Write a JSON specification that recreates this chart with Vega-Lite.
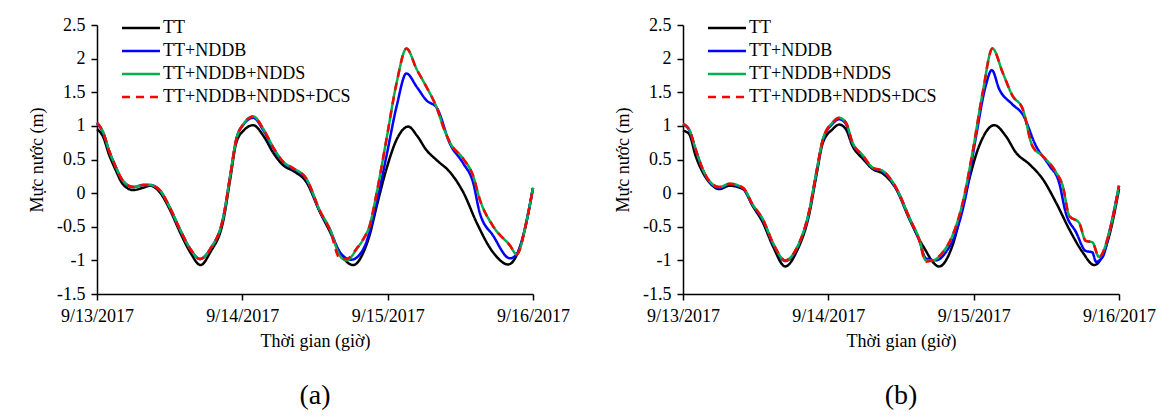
{
  "$schema": "https://vega.github.io/schema/vega-lite/v6.json",
  "background": "white",
  "padding": {"left": 28, "top": 16, "right": 5, "bottom": 5},
  "spacing": 150,
  "bounds": "flush",
  "config": {
    "font": "Times New Roman",
    "view": {"stroke": null},
    "axis": {
      "labelFont": "Times New Roman", "labelFontSize": 18, "labelColor": "black",
      "titleFont": "Times New Roman", "titleFontSize": 18, "titleFontWeight": "normal", "titleColor": "black",
      "domainColor": "black", "domainWidth": 1.5, "tickColor": "black", "tickWidth": 1.5, "tickSize": 6, "grid": false
    },
    "legend": {
      "labelFont": "Times New Roman", "labelFontSize": 18, "labelColor": "black", "labelLimit": 400
    },
    "title": {"font": "Times New Roman", "fontSize": 28, "fontWeight": "normal", "color": "black"}
  },
  "datasets": {
    "a": [
      {"series": "TT", "hour": 0, "level": 0.95},
      {"series": "TT", "hour": 1, "level": 0.84},
      {"series": "TT", "hour": 2, "level": 0.57},
      {"series": "TT", "hour": 3, "level": 0.36},
      {"series": "TT", "hour": 4.3, "level": 0.13},
      {"series": "TT", "hour": 6, "level": 0.045},
      {"series": "TT", "hour": 7.6, "level": 0.08},
      {"series": "TT", "hour": 8.75, "level": 0.11},
      {"series": "TT", "hour": 10.4, "level": 0.01},
      {"series": "TT", "hour": 12, "level": -0.24},
      {"series": "TT", "hour": 13.7, "level": -0.58},
      {"series": "TT", "hour": 15.4, "level": -0.88},
      {"series": "TT", "hour": 17.1, "level": -1.07},
      {"series": "TT", "hour": 18.7, "level": -0.88},
      {"series": "TT", "hour": 20.9, "level": -0.39},
      {"series": "TT", "hour": 22, "level": 0.21},
      {"series": "TT", "hour": 23, "level": 0.75},
      {"series": "TT", "hour": 24.2, "level": 0.93},
      {"series": "TT", "hour": 25.8, "level": 1.01},
      {"series": "TT", "hour": 27.5, "level": 0.85},
      {"series": "TT", "hour": 29.1, "level": 0.6},
      {"series": "TT", "hour": 30.8, "level": 0.41},
      {"series": "TT", "hour": 32.4, "level": 0.33},
      {"series": "TT", "hour": 34.6, "level": 0.16},
      {"series": "TT", "hour": 36.8, "level": -0.28},
      {"series": "TT", "hour": 38.5, "level": -0.58},
      {"series": "TT", "hour": 40.1, "level": -0.88},
      {"series": "TT", "hour": 42.3, "level": -1.07},
      {"series": "TT", "hour": 44, "level": -0.88},
      {"series": "TT", "hour": 45, "level": -0.63},
      {"series": "TT", "hour": 46.2, "level": -0.19},
      {"series": "TT", "hour": 47.8, "level": 0.36},
      {"series": "TT", "hour": 49.5, "level": 0.8},
      {"series": "TT", "hour": 51.4, "level": 0.99},
      {"series": "TT", "hour": 52.8, "level": 0.86},
      {"series": "TT", "hour": 54.4, "level": 0.64},
      {"series": "TT", "hour": 56.1, "level": 0.49},
      {"series": "TT", "hour": 58.3, "level": 0.31},
      {"series": "TT", "hour": 60.5, "level": 0.01},
      {"series": "TT", "hour": 62.7, "level": -0.44},
      {"series": "TT", "hour": 65.4, "level": -0.88},
      {"series": "TT", "hour": 67.9, "level": -1.06},
      {"series": "TT", "hour": 70.4, "level": -0.63},
      {"series": "TT", "hour": 72, "level": 0.08},

      {"series": "TT+NDDB", "hour": 0, "level": 1.04},
      {"series": "TT+NDDB", "hour": 1, "level": 0.9},
      {"series": "TT+NDDB", "hour": 2, "level": 0.63},
      {"series": "TT+NDDB", "hour": 3, "level": 0.41},
      {"series": "TT+NDDB", "hour": 4.3, "level": 0.18},
      {"series": "TT+NDDB", "hour": 6, "level": 0.09},
      {"series": "TT+NDDB", "hour": 7.6, "level": 0.12},
      {"series": "TT+NDDB", "hour": 8.75, "level": 0.12},
      {"series": "TT+NDDB", "hour": 10.4, "level": 0.04},
      {"series": "TT+NDDB", "hour": 12, "level": -0.21},
      {"series": "TT+NDDB", "hour": 13.7, "level": -0.54},
      {"series": "TT+NDDB", "hour": 15.4, "level": -0.83},
      {"series": "TT+NDDB", "hour": 17, "level": -0.98},
      {"series": "TT+NDDB", "hour": 18.7, "level": -0.83},
      {"series": "TT+NDDB", "hour": 20.9, "level": -0.34},
      {"series": "TT+NDDB", "hour": 22, "level": 0.26},
      {"series": "TT+NDDB", "hour": 23, "level": 0.8},
      {"series": "TT+NDDB", "hour": 24.2, "level": 1.02},
      {"series": "TT+NDDB", "hour": 25.8, "level": 1.12},
      {"series": "TT+NDDB", "hour": 27.5, "level": 0.93},
      {"series": "TT+NDDB", "hour": 29.1, "level": 0.67},
      {"series": "TT+NDDB", "hour": 30.8, "level": 0.45},
      {"series": "TT+NDDB", "hour": 32.4, "level": 0.36},
      {"series": "TT+NDDB", "hour": 34.6, "level": 0.2},
      {"series": "TT+NDDB", "hour": 36.8, "level": -0.27},
      {"series": "TT+NDDB", "hour": 38.5, "level": -0.55},
      {"series": "TT+NDDB", "hour": 40.1, "level": -0.88},
      {"series": "TT+NDDB", "hour": 42, "level": -0.99},
      {"series": "TT+NDDB", "hour": 44, "level": -0.83},
      {"series": "TT+NDDB", "hour": 45, "level": -0.58},
      {"series": "TT+NDDB", "hour": 46.2, "level": -0.14},
      {"series": "TT+NDDB", "hour": 47.8, "level": 0.55},
      {"series": "TT+NDDB", "hour": 49.5, "level": 1.3},
      {"series": "TT+NDDB", "hour": 51.1, "level": 1.78},
      {"series": "TT+NDDB", "hour": 52.8, "level": 1.58},
      {"series": "TT+NDDB", "hour": 54.4, "level": 1.38},
      {"series": "TT+NDDB", "hour": 56.1, "level": 1.27},
      {"series": "TT+NDDB", "hour": 58.3, "level": 0.73},
      {"series": "TT+NDDB", "hour": 60.5, "level": 0.44},
      {"series": "TT+NDDB", "hour": 62.1, "level": 0.16},
      {"series": "TT+NDDB", "hour": 63.2, "level": -0.29},
      {"series": "TT+NDDB", "hour": 65.4, "level": -0.63},
      {"series": "TT+NDDB", "hour": 68.2, "level": -0.97},
      {"series": "TT+NDDB", "hour": 69.3, "level": -0.91},
      {"series": "TT+NDDB", "hour": 71, "level": -0.39},
      {"series": "TT+NDDB", "hour": 72, "level": 0.08},

      {"series": "TT+NDDB+NDDS", "hour": 0, "level": 1.05},
      {"series": "TT+NDDB+NDDS", "hour": 1, "level": 0.91},
      {"series": "TT+NDDB+NDDS", "hour": 2, "level": 0.63},
      {"series": "TT+NDDB+NDDS", "hour": 3, "level": 0.41},
      {"series": "TT+NDDB+NDDS", "hour": 4.3, "level": 0.18},
      {"series": "TT+NDDB+NDDS", "hour": 6, "level": 0.09},
      {"series": "TT+NDDB+NDDS", "hour": 7.6, "level": 0.12},
      {"series": "TT+NDDB+NDDS", "hour": 8.75, "level": 0.12},
      {"series": "TT+NDDB+NDDS", "hour": 10.4, "level": 0.04},
      {"series": "TT+NDDB+NDDS", "hour": 12, "level": -0.21},
      {"series": "TT+NDDB+NDDS", "hour": 13.7, "level": -0.54},
      {"series": "TT+NDDB+NDDS", "hour": 15.4, "level": -0.83},
      {"series": "TT+NDDB+NDDS", "hour": 17, "level": -0.98},
      {"series": "TT+NDDB+NDDS", "hour": 18.7, "level": -0.83},
      {"series": "TT+NDDB+NDDS", "hour": 20.9, "level": -0.34},
      {"series": "TT+NDDB+NDDS", "hour": 22, "level": 0.26},
      {"series": "TT+NDDB+NDDS", "hour": 23, "level": 0.8},
      {"series": "TT+NDDB+NDDS", "hour": 24.2, "level": 1.03},
      {"series": "TT+NDDB+NDDS", "hour": 25.8, "level": 1.14},
      {"series": "TT+NDDB+NDDS", "hour": 27.5, "level": 0.95},
      {"series": "TT+NDDB+NDDS", "hour": 29.1, "level": 0.68},
      {"series": "TT+NDDB+NDDS", "hour": 30.8, "level": 0.46},
      {"series": "TT+NDDB+NDDS", "hour": 32.4, "level": 0.37},
      {"series": "TT+NDDB+NDDS", "hour": 34.6, "level": 0.21},
      {"series": "TT+NDDB+NDDS", "hour": 36.8, "level": -0.26},
      {"series": "TT+NDDB+NDDS", "hour": 38.5, "level": -0.54},
      {"series": "TT+NDDB+NDDS", "hour": 40.1, "level": -0.93},
      {"series": "TT+NDDB+NDDS", "hour": 41.2, "level": -1.0},
      {"series": "TT+NDDB+NDDS", "hour": 42.9, "level": -0.83},
      {"series": "TT+NDDB+NDDS", "hour": 44, "level": -0.68},
      {"series": "TT+NDDB+NDDS", "hour": 45, "level": -0.49},
      {"series": "TT+NDDB+NDDS", "hour": 46.2, "level": 0.01},
      {"series": "TT+NDDB+NDDS", "hour": 47.8, "level": 0.8},
      {"series": "TT+NDDB+NDDS", "hour": 49.5, "level": 1.65},
      {"series": "TT+NDDB+NDDS", "hour": 51.1, "level": 2.15},
      {"series": "TT+NDDB+NDDS", "hour": 52.8, "level": 1.84},
      {"series": "TT+NDDB+NDDS", "hour": 54.4, "level": 1.58},
      {"series": "TT+NDDB+NDDS", "hour": 56.1, "level": 1.27},
      {"series": "TT+NDDB+NDDS", "hour": 57.2, "level": 0.98},
      {"series": "TT+NDDB+NDDS", "hour": 58.3, "level": 0.75},
      {"series": "TT+NDDB+NDDS", "hour": 60.5, "level": 0.51},
      {"series": "TT+NDDB+NDDS", "hour": 62.1, "level": 0.26},
      {"series": "TT+NDDB+NDDS", "hour": 63.2, "level": -0.09},
      {"series": "TT+NDDB+NDDS", "hour": 65.4, "level": -0.49},
      {"series": "TT+NDDB+NDDS", "hour": 68.2, "level": -0.78},
      {"series": "TT+NDDB+NDDS", "hour": 69.3, "level": -0.91},
      {"series": "TT+NDDB+NDDS", "hour": 71, "level": -0.39},
      {"series": "TT+NDDB+NDDS", "hour": 72, "level": 0.08},

      {"series": "TT+NDDB+NDDS+DCS", "hour": 0, "level": 1.05},
      {"series": "TT+NDDB+NDDS+DCS", "hour": 1, "level": 0.91},
      {"series": "TT+NDDB+NDDS+DCS", "hour": 2, "level": 0.63},
      {"series": "TT+NDDB+NDDS+DCS", "hour": 3, "level": 0.41},
      {"series": "TT+NDDB+NDDS+DCS", "hour": 4.3, "level": 0.18},
      {"series": "TT+NDDB+NDDS+DCS", "hour": 6, "level": 0.09},
      {"series": "TT+NDDB+NDDS+DCS", "hour": 7.6, "level": 0.12},
      {"series": "TT+NDDB+NDDS+DCS", "hour": 8.75, "level": 0.12},
      {"series": "TT+NDDB+NDDS+DCS", "hour": 10.4, "level": 0.04},
      {"series": "TT+NDDB+NDDS+DCS", "hour": 12, "level": -0.21},
      {"series": "TT+NDDB+NDDS+DCS", "hour": 13.7, "level": -0.54},
      {"series": "TT+NDDB+NDDS+DCS", "hour": 15.4, "level": -0.83},
      {"series": "TT+NDDB+NDDS+DCS", "hour": 17, "level": -0.98},
      {"series": "TT+NDDB+NDDS+DCS", "hour": 18.7, "level": -0.83},
      {"series": "TT+NDDB+NDDS+DCS", "hour": 20.9, "level": -0.34},
      {"series": "TT+NDDB+NDDS+DCS", "hour": 22, "level": 0.26},
      {"series": "TT+NDDB+NDDS+DCS", "hour": 23, "level": 0.8},
      {"series": "TT+NDDB+NDDS+DCS", "hour": 24.2, "level": 1.03},
      {"series": "TT+NDDB+NDDS+DCS", "hour": 25.8, "level": 1.14},
      {"series": "TT+NDDB+NDDS+DCS", "hour": 27.5, "level": 0.95},
      {"series": "TT+NDDB+NDDS+DCS", "hour": 29.1, "level": 0.68},
      {"series": "TT+NDDB+NDDS+DCS", "hour": 30.8, "level": 0.46},
      {"series": "TT+NDDB+NDDS+DCS", "hour": 32.4, "level": 0.37},
      {"series": "TT+NDDB+NDDS+DCS", "hour": 34.6, "level": 0.21},
      {"series": "TT+NDDB+NDDS+DCS", "hour": 36.8, "level": -0.26},
      {"series": "TT+NDDB+NDDS+DCS", "hour": 38.5, "level": -0.56},
      {"series": "TT+NDDB+NDDS+DCS", "hour": 40.1, "level": -0.97},
      {"series": "TT+NDDB+NDDS+DCS", "hour": 41.2, "level": -0.98},
      {"series": "TT+NDDB+NDDS+DCS", "hour": 42.9, "level": -0.82},
      {"series": "TT+NDDB+NDDS+DCS", "hour": 44, "level": -0.68},
      {"series": "TT+NDDB+NDDS+DCS", "hour": 45, "level": -0.49},
      {"series": "TT+NDDB+NDDS+DCS", "hour": 46.2, "level": 0.01},
      {"series": "TT+NDDB+NDDS+DCS", "hour": 47.8, "level": 0.8},
      {"series": "TT+NDDB+NDDS+DCS", "hour": 49.5, "level": 1.65},
      {"series": "TT+NDDB+NDDS+DCS", "hour": 51.1, "level": 2.15},
      {"series": "TT+NDDB+NDDS+DCS", "hour": 52.8, "level": 1.84},
      {"series": "TT+NDDB+NDDS+DCS", "hour": 54.4, "level": 1.58},
      {"series": "TT+NDDB+NDDS+DCS", "hour": 56.1, "level": 1.27},
      {"series": "TT+NDDB+NDDS+DCS", "hour": 57.2, "level": 0.98},
      {"series": "TT+NDDB+NDDS+DCS", "hour": 58.3, "level": 0.75},
      {"series": "TT+NDDB+NDDS+DCS", "hour": 60.5, "level": 0.51},
      {"series": "TT+NDDB+NDDS+DCS", "hour": 62.1, "level": 0.26},
      {"series": "TT+NDDB+NDDS+DCS", "hour": 63.2, "level": -0.09},
      {"series": "TT+NDDB+NDDS+DCS", "hour": 65.4, "level": -0.49},
      {"series": "TT+NDDB+NDDS+DCS", "hour": 68.2, "level": -0.78},
      {"series": "TT+NDDB+NDDS+DCS", "hour": 69.3, "level": -0.91},
      {"series": "TT+NDDB+NDDS+DCS", "hour": 71, "level": -0.39},
      {"series": "TT+NDDB+NDDS+DCS", "hour": 72, "level": 0.08}
    ],
    "b": [
      {"series": "TT", "hour": 0, "level": 0.93},
      {"series": "TT", "hour": 1, "level": 0.88},
      {"series": "TT", "hour": 2.1, "level": 0.55},
      {"series": "TT", "hour": 3.25, "level": 0.31},
      {"series": "TT", "hour": 4.35, "level": 0.16},
      {"series": "TT", "hour": 6, "level": 0.06},
      {"series": "TT", "hour": 7.7, "level": 0.11},
      {"series": "TT", "hour": 9.9, "level": 0.06},
      {"series": "TT", "hour": 11.5, "level": -0.19},
      {"series": "TT", "hour": 13.2, "level": -0.44},
      {"series": "TT", "hour": 14.8, "level": -0.78},
      {"series": "TT", "hour": 16.9, "level": -1.09},
      {"series": "TT", "hour": 18.7, "level": -0.88},
      {"series": "TT", "hour": 20.9, "level": -0.29},
      {"series": "TT", "hour": 22, "level": 0.25},
      {"series": "TT", "hour": 23.1, "level": 0.75},
      {"series": "TT", "hour": 24.7, "level": 0.95},
      {"series": "TT", "hour": 25.8, "level": 1.02},
      {"series": "TT", "hour": 26.9, "level": 0.95},
      {"series": "TT", "hour": 28, "level": 0.7},
      {"series": "TT", "hour": 29.7, "level": 0.51},
      {"series": "TT", "hour": 31.3, "level": 0.36},
      {"series": "TT", "hour": 33, "level": 0.29},
      {"series": "TT", "hour": 35.2, "level": 0.06},
      {"series": "TT", "hour": 37.4, "level": -0.39},
      {"series": "TT", "hour": 39.6, "level": -0.78},
      {"series": "TT", "hour": 42.3, "level": -1.09},
      {"series": "TT", "hour": 44.5, "level": -0.78},
      {"series": "TT", "hour": 46.7, "level": 0.01},
      {"series": "TT", "hour": 48.9, "level": 0.7},
      {"series": "TT", "hour": 51.4, "level": 1.01},
      {"series": "TT", "hour": 53.3, "level": 0.85},
      {"series": "TT", "hour": 55, "level": 0.6},
      {"series": "TT", "hour": 57.2, "level": 0.43},
      {"series": "TT", "hour": 59.4, "level": 0.21},
      {"series": "TT", "hour": 61.6, "level": -0.14},
      {"series": "TT", "hour": 63.8, "level": -0.54},
      {"series": "TT", "hour": 66, "level": -0.88},
      {"series": "TT", "hour": 67.9, "level": -1.07},
      {"series": "TT", "hour": 70.4, "level": -0.63},
      {"series": "TT", "hour": 72, "level": 0.06},

      {"series": "TT+NDDB", "hour": 0, "level": 1.02},
      {"series": "TT+NDDB", "hour": 1, "level": 0.94},
      {"series": "TT+NDDB", "hour": 2.1, "level": 0.64},
      {"series": "TT+NDDB", "hour": 3.25, "level": 0.35},
      {"series": "TT+NDDB", "hour": 4.35, "level": 0.17},
      {"series": "TT+NDDB", "hour": 6, "level": 0.08},
      {"series": "TT+NDDB", "hour": 7.7, "level": 0.13},
      {"series": "TT+NDDB", "hour": 9.9, "level": 0.07},
      {"series": "TT+NDDB", "hour": 11.5, "level": -0.18},
      {"series": "TT+NDDB", "hour": 13.2, "level": -0.4},
      {"series": "TT+NDDB", "hour": 14.8, "level": -0.74},
      {"series": "TT+NDDB", "hour": 16.9, "level": -1.01},
      {"series": "TT+NDDB", "hour": 18.7, "level": -0.84},
      {"series": "TT+NDDB", "hour": 20.9, "level": -0.25},
      {"series": "TT+NDDB", "hour": 22, "level": 0.29},
      {"series": "TT+NDDB", "hour": 23.1, "level": 0.79},
      {"series": "TT+NDDB", "hour": 24.7, "level": 1.03},
      {"series": "TT+NDDB", "hour": 25.8, "level": 1.1},
      {"series": "TT+NDDB", "hour": 26.9, "level": 1.03},
      {"series": "TT+NDDB", "hour": 28, "level": 0.74},
      {"series": "TT+NDDB", "hour": 29.7, "level": 0.55},
      {"series": "TT+NDDB", "hour": 31.3, "level": 0.37},
      {"series": "TT+NDDB", "hour": 33, "level": 0.32},
      {"series": "TT+NDDB", "hour": 35.2, "level": 0.07},
      {"series": "TT+NDDB", "hour": 37.4, "level": -0.37},
      {"series": "TT+NDDB", "hour": 39, "level": -0.7},
      {"series": "TT+NDDB", "hour": 40.1, "level": -0.97},
      {"series": "TT+NDDB", "hour": 41.8, "level": -1.0},
      {"series": "TT+NDDB", "hour": 43.4, "level": -0.88},
      {"series": "TT+NDDB", "hour": 45.1, "level": -0.58},
      {"series": "TT+NDDB", "hour": 46.7, "level": -0.04},
      {"series": "TT+NDDB", "hour": 48.4, "level": 0.85},
      {"series": "TT+NDDB", "hour": 50, "level": 1.6},
      {"series": "TT+NDDB", "hour": 51, "level": 1.83},
      {"series": "TT+NDDB", "hour": 52.2, "level": 1.55},
      {"series": "TT+NDDB", "hour": 54.4, "level": 1.32},
      {"series": "TT+NDDB", "hour": 56.1, "level": 1.17},
      {"series": "TT+NDDB", "hour": 58.3, "level": 0.7},
      {"series": "TT+NDDB", "hour": 60.5, "level": 0.41},
      {"series": "TT+NDDB", "hour": 62.1, "level": 0.16},
      {"series": "TT+NDDB", "hour": 63.2, "level": -0.29},
      {"series": "TT+NDDB", "hour": 64.9, "level": -0.58},
      {"series": "TT+NDDB", "hour": 66.5, "level": -0.86},
      {"series": "TT+NDDB", "hour": 67.6, "level": -0.88},
      {"series": "TT+NDDB", "hour": 68.2, "level": -1.02},
      {"series": "TT+NDDB", "hour": 69.3, "level": -0.95},
      {"series": "TT+NDDB", "hour": 70.4, "level": -0.58},
      {"series": "TT+NDDB", "hour": 72, "level": 0.11},

      {"series": "TT+NDDB+NDDS", "hour": 0, "level": 1.03},
      {"series": "TT+NDDB+NDDS", "hour": 1, "level": 0.95},
      {"series": "TT+NDDB+NDDS", "hour": 2.1, "level": 0.65},
      {"series": "TT+NDDB+NDDS", "hour": 3.25, "level": 0.36},
      {"series": "TT+NDDB+NDDS", "hour": 4.35, "level": 0.18},
      {"series": "TT+NDDB+NDDS", "hour": 6, "level": 0.09},
      {"series": "TT+NDDB+NDDS", "hour": 7.7, "level": 0.14},
      {"series": "TT+NDDB+NDDS", "hour": 9.9, "level": 0.08},
      {"series": "TT+NDDB+NDDS", "hour": 11.5, "level": -0.17},
      {"series": "TT+NDDB+NDDS", "hour": 13.2, "level": -0.39},
      {"series": "TT+NDDB+NDDS", "hour": 14.8, "level": -0.73},
      {"series": "TT+NDDB+NDDS", "hour": 16.9, "level": -1.0},
      {"series": "TT+NDDB+NDDS", "hour": 18.7, "level": -0.83},
      {"series": "TT+NDDB+NDDS", "hour": 20.9, "level": -0.24},
      {"series": "TT+NDDB+NDDS", "hour": 22, "level": 0.3},
      {"series": "TT+NDDB+NDDS", "hour": 23.1, "level": 0.8},
      {"series": "TT+NDDB+NDDS", "hour": 24.7, "level": 1.05},
      {"series": "TT+NDDB+NDDS", "hour": 25.8, "level": 1.12},
      {"series": "TT+NDDB+NDDS", "hour": 26.9, "level": 1.05},
      {"series": "TT+NDDB+NDDS", "hour": 28, "level": 0.75},
      {"series": "TT+NDDB+NDDS", "hour": 29.7, "level": 0.56},
      {"series": "TT+NDDB+NDDS", "hour": 31.3, "level": 0.38},
      {"series": "TT+NDDB+NDDS", "hour": 33, "level": 0.33},
      {"series": "TT+NDDB+NDDS", "hour": 35.2, "level": 0.08},
      {"series": "TT+NDDB+NDDS", "hour": 37.4, "level": -0.37},
      {"series": "TT+NDDB+NDDS", "hour": 39, "level": -0.68},
      {"series": "TT+NDDB+NDDS", "hour": 40.1, "level": -1.0},
      {"series": "TT+NDDB+NDDS", "hour": 41.2, "level": -1.0},
      {"series": "TT+NDDB+NDDS", "hour": 42.9, "level": -0.88},
      {"series": "TT+NDDB+NDDS", "hour": 44.5, "level": -0.63},
      {"series": "TT+NDDB+NDDS", "hour": 46.2, "level": -0.14},
      {"series": "TT+NDDB+NDDS", "hour": 47.8, "level": 0.6},
      {"series": "TT+NDDB+NDDS", "hour": 49.5, "level": 1.5},
      {"series": "TT+NDDB+NDDS", "hour": 51.1, "level": 2.15},
      {"series": "TT+NDDB+NDDS", "hour": 52.8, "level": 1.79},
      {"series": "TT+NDDB+NDDS", "hour": 54.4, "level": 1.45},
      {"series": "TT+NDDB+NDDS", "hour": 56.1, "level": 1.25},
      {"series": "TT+NDDB+NDDS", "hour": 57.7, "level": 0.7},
      {"series": "TT+NDDB+NDDS", "hour": 59.4, "level": 0.55},
      {"series": "TT+NDDB+NDDS", "hour": 61.6, "level": 0.31},
      {"series": "TT+NDDB+NDDS", "hour": 62.7, "level": 0.11},
      {"series": "TT+NDDB+NDDS", "hour": 63.8, "level": -0.34},
      {"series": "TT+NDDB+NDDS", "hour": 65.4, "level": -0.44},
      {"series": "TT+NDDB+NDDS", "hour": 66.5, "level": -0.71},
      {"series": "TT+NDDB+NDDS", "hour": 67.6, "level": -0.73},
      {"series": "TT+NDDB+NDDS", "hour": 68.7, "level": -0.95},
      {"series": "TT+NDDB+NDDS", "hour": 70.4, "level": -0.58},
      {"series": "TT+NDDB+NDDS", "hour": 72, "level": 0.11},

      {"series": "TT+NDDB+NDDS+DCS", "hour": 0, "level": 1.03},
      {"series": "TT+NDDB+NDDS+DCS", "hour": 1, "level": 0.95},
      {"series": "TT+NDDB+NDDS+DCS", "hour": 2.1, "level": 0.65},
      {"series": "TT+NDDB+NDDS+DCS", "hour": 3.25, "level": 0.36},
      {"series": "TT+NDDB+NDDS+DCS", "hour": 4.35, "level": 0.18},
      {"series": "TT+NDDB+NDDS+DCS", "hour": 6, "level": 0.09},
      {"series": "TT+NDDB+NDDS+DCS", "hour": 7.7, "level": 0.14},
      {"series": "TT+NDDB+NDDS+DCS", "hour": 9.9, "level": 0.08},
      {"series": "TT+NDDB+NDDS+DCS", "hour": 11.5, "level": -0.17},
      {"series": "TT+NDDB+NDDS+DCS", "hour": 13.2, "level": -0.39},
      {"series": "TT+NDDB+NDDS+DCS", "hour": 14.8, "level": -0.73},
      {"series": "TT+NDDB+NDDS+DCS", "hour": 16.9, "level": -1.0},
      {"series": "TT+NDDB+NDDS+DCS", "hour": 18.7, "level": -0.83},
      {"series": "TT+NDDB+NDDS+DCS", "hour": 20.9, "level": -0.24},
      {"series": "TT+NDDB+NDDS+DCS", "hour": 22, "level": 0.3},
      {"series": "TT+NDDB+NDDS+DCS", "hour": 23.1, "level": 0.8},
      {"series": "TT+NDDB+NDDS+DCS", "hour": 24.7, "level": 1.05},
      {"series": "TT+NDDB+NDDS+DCS", "hour": 25.8, "level": 1.12},
      {"series": "TT+NDDB+NDDS+DCS", "hour": 26.9, "level": 1.05},
      {"series": "TT+NDDB+NDDS+DCS", "hour": 28, "level": 0.75},
      {"series": "TT+NDDB+NDDS+DCS", "hour": 29.7, "level": 0.56},
      {"series": "TT+NDDB+NDDS+DCS", "hour": 31.3, "level": 0.38},
      {"series": "TT+NDDB+NDDS+DCS", "hour": 33, "level": 0.33},
      {"series": "TT+NDDB+NDDS+DCS", "hour": 35.2, "level": 0.08},
      {"series": "TT+NDDB+NDDS+DCS", "hour": 37.4, "level": -0.37},
      {"series": "TT+NDDB+NDDS+DCS", "hour": 39, "level": -0.7},
      {"series": "TT+NDDB+NDDS+DCS", "hour": 40.1, "level": -1.02},
      {"series": "TT+NDDB+NDDS+DCS", "hour": 41.2, "level": -1.0},
      {"series": "TT+NDDB+NDDS+DCS", "hour": 42.9, "level": -0.88},
      {"series": "TT+NDDB+NDDS+DCS", "hour": 44.5, "level": -0.63},
      {"series": "TT+NDDB+NDDS+DCS", "hour": 46.2, "level": -0.14},
      {"series": "TT+NDDB+NDDS+DCS", "hour": 47.8, "level": 0.6},
      {"series": "TT+NDDB+NDDS+DCS", "hour": 49.5, "level": 1.5},
      {"series": "TT+NDDB+NDDS+DCS", "hour": 51.1, "level": 2.15},
      {"series": "TT+NDDB+NDDS+DCS", "hour": 52.8, "level": 1.79},
      {"series": "TT+NDDB+NDDS+DCS", "hour": 54.4, "level": 1.45},
      {"series": "TT+NDDB+NDDS+DCS", "hour": 56.1, "level": 1.25},
      {"series": "TT+NDDB+NDDS+DCS", "hour": 57.7, "level": 0.7},
      {"series": "TT+NDDB+NDDS+DCS", "hour": 59.4, "level": 0.55},
      {"series": "TT+NDDB+NDDS+DCS", "hour": 61.6, "level": 0.31},
      {"series": "TT+NDDB+NDDS+DCS", "hour": 62.7, "level": 0.11},
      {"series": "TT+NDDB+NDDS+DCS", "hour": 63.8, "level": -0.34},
      {"series": "TT+NDDB+NDDS+DCS", "hour": 65.4, "level": -0.44},
      {"series": "TT+NDDB+NDDS+DCS", "hour": 66.5, "level": -0.71},
      {"series": "TT+NDDB+NDDS+DCS", "hour": 67.6, "level": -0.73},
      {"series": "TT+NDDB+NDDS+DCS", "hour": 68.7, "level": -0.95},
      {"series": "TT+NDDB+NDDS+DCS", "hour": 70.4, "level": -0.58},
      {"series": "TT+NDDB+NDDS+DCS", "hour": 72, "level": 0.11}
    ]
  },
  "hconcat": [
    {
      "width": 436, "height": 269,
      "title": {"text": "(a)", "orient": "bottom", "offset": 32, "font": "Times New Roman"},
      "data": {"name": "a"},
      "mark": {"type": "line", "interpolate": "monotone", "strokeWidth": 2.5},
      "encoding": {
        "x": {"field": "hour", "type": "quantitative", "scale": {"domain": [0, 72], "nice": false, "zero": false},
          "axis": {"values": [0, 24, 48, 72], "labelExpr": "datum.value == 0 ? '9/13/2017' : datum.value == 24 ? '9/14/2017' : datum.value == 48 ? '9/15/2017' : '9/16/2017'", "title": "Thời gian (giờ)", "labelFont": "Times New Roman", "titleFont": "Times New Roman", "labelPadding": 7, "titlePadding": 7, "labelFlush": false}},
        "y": {"field": "level", "type": "quantitative", "scale": {"domain": [-1.5, 2.5], "nice": false},
          "axis": {"values": [-1.5, -1, -0.5, 0, 0.5, 1, 1.5, 2, 2.5], "labelExpr": "'' + datum.value", "title": "Mực nước (m)", "labelFont": "Times New Roman", "titleFont": "Times New Roman", "labelPadding": 6, "titlePadding": 10}},
        "color": {"field": "series", "type": "nominal",
          "scale": {"domain": ["TT", "TT+NDDB", "TT+NDDB+NDDS", "TT+NDDB+NDDS+DCS"], "range": ["#000000", "#0000ff", "#00b050", "#ff0000"]},
          "legend": {"title": null, "orient": "none", "legendX": 35, "legendY": -6, "symbolType": "M-4,0L4,0", "symbolSize": 90, "symbolStrokeWidth": 2.5, "labelOffset": 13, "rowPadding": 5, "padding": 0, "labelFont": "Times New Roman"}},
        "strokeDash": {"field": "series", "type": "nominal",
          "scale": {"domain": ["TT", "TT+NDDB", "TT+NDDB+NDDS", "TT+NDDB+NDDS+DCS"], "range": [[1, 0], [1, 0], [1, 0], [8, 6]]},
          "legend": {"title": null, "orient": "none", "legendX": 35, "legendY": -6, "symbolType": "M-4,0L4,0", "symbolSize": 90, "symbolStrokeWidth": 2.5, "labelOffset": 13, "rowPadding": 5, "padding": 0, "labelFont": "Times New Roman"}}
      }
    },
    {
      "width": 436, "height": 269,
      "title": {"text": "(b)", "orient": "bottom", "offset": 32, "font": "Times New Roman"},
      "data": {"name": "b"},
      "mark": {"type": "line", "interpolate": "monotone", "strokeWidth": 2.5},
      "encoding": {
        "x": {"field": "hour", "type": "quantitative", "scale": {"domain": [0, 72], "nice": false, "zero": false},
          "axis": {"values": [0, 24, 48, 72], "labelExpr": "datum.value == 0 ? '9/13/2017' : datum.value == 24 ? '9/14/2017' : datum.value == 48 ? '9/15/2017' : '9/16/2017'", "title": "Thời gian (giờ)", "labelFont": "Times New Roman", "titleFont": "Times New Roman", "labelPadding": 7, "titlePadding": 7, "labelFlush": false}},
        "y": {"field": "level", "type": "quantitative", "scale": {"domain": [-1.5, 2.5], "nice": false},
          "axis": {"values": [-1.5, -1, -0.5, 0, 0.5, 1, 1.5, 2, 2.5], "labelExpr": "'' + datum.value", "title": "Mực nước (m)", "labelFont": "Times New Roman", "titleFont": "Times New Roman", "labelPadding": 6, "titlePadding": 10}},
        "color": {"field": "series", "type": "nominal",
          "scale": {"domain": ["TT", "TT+NDDB", "TT+NDDB+NDDS", "TT+NDDB+NDDS+DCS"], "range": ["#000000", "#0000ff", "#00b050", "#ff0000"]},
          "legend": {"title": null, "orient": "none", "legendX": 35, "legendY": -6, "symbolType": "M-4,0L4,0", "symbolSize": 90, "symbolStrokeWidth": 2.5, "labelOffset": 13, "rowPadding": 5, "padding": 0, "labelFont": "Times New Roman"}},
        "strokeDash": {"field": "series", "type": "nominal",
          "scale": {"domain": ["TT", "TT+NDDB", "TT+NDDB+NDDS", "TT+NDDB+NDDS+DCS"], "range": [[1, 0], [1, 0], [1, 0], [8, 6]]},
          "legend": {"title": null, "orient": "none", "legendX": 35, "legendY": -6, "symbolType": "M-4,0L4,0", "symbolSize": 90, "symbolStrokeWidth": 2.5, "labelOffset": 13, "rowPadding": 5, "padding": 0, "labelFont": "Times New Roman"}}
      }
    }
  ],
  "resolve": {"scale": {"color": "independent", "strokeDash": "independent"}, "legend": {"color": "independent", "strokeDash": "independent"}}
}
